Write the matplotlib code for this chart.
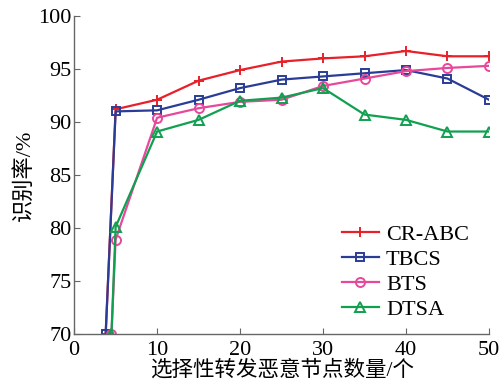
import matplotlib
matplotlib.use('Agg')
import matplotlib.pyplot as plt

# Данные
x_start_a = 3.8
x_start_b = 4.5
x_main = [5, 10, 15, 20, 25, 30, 35, 40, 45, 50]

cr_abc = [70, 91.2, 92.1, 93.9, 94.9, 95.7, 96.0, 96.2, 96.7, 96.2, 96.2]
tbcs = [70, 91.0, 91.1, 92.1, 93.2, 94.0, 94.3, 94.6, 94.9, 94.1, 92.1]
bts = [70, 78.9, 90.4, 91.3, 91.9, 92.1, 93.4, 94.1, 94.8, 95.1, 95.3]
dtsa = [70, 80.1, 89.1, 90.2, 92.0, 92.3, 93.2, 90.7, 90.2, 89.1, 89.1]

x_a = [x_start_a] + x_main
x_b = [x_start_b] + x_main

x_ticks = [0, 10, 20, 30, 40, 50]
y_ticks = [70, 75, 80, 85, 90, 95, 100]

plt.rcParams['font.family'] = ['Liberation Serif', 'Noto Sans CJK SC']

fig = plt.figure(figsize=(5.01, 3.91), dpi=100)
ax = fig.add_axes([0.148, 0.146, 0.828, 0.813])

ax.plot(x_a, cr_abc, color='#e8202a', marker='+', markersize=7.5,
        markeredgewidth=1.4, linewidth=1.6, label='CR-ABC')
ax.plot(x_a, tbcs, color='#2a3d96', marker='s', markersize=5.5,
        markerfacecolor='none', markeredgewidth=1.4, linewidth=1.6, label='TBCS')
ax.plot(x_b, bts, color='#e8489a', marker='o', markersize=6.5,
        markerfacecolor='none', markeredgewidth=1.4, linewidth=1.6, label='BTS')
ax.plot(x_b, dtsa, color='#10a050', marker='^', markersize=7.5,
        markerfacecolor='none', markeredgewidth=1.4, linewidth=1.6, label='DTSA')

ax.set_xlim(0, 50)
ax.set_ylim(70, 100)
ax.set_xticks(x_ticks)
ax.set_yticks(y_ticks)

for side in ['top', 'right']:
    ax.spines[side].set_visible(False)
for side in ['left', 'bottom']:
    ax.spines[side].set_color('#666666')
    ax.spines[side].set_linewidth(1.0)
ax.tick_params(direction='in', length=4, color='#666666', labelsize=16)
ax.tick_params(axis='x', pad=5)
ax.tick_params(axis='y', pad=2)

ax.set_xlabel('选择性转发恶意节点数量/个', fontsize=15.5, labelpad=0)
ax.set_ylabel('识别率/%', fontsize=16, labelpad=2)

ax.legend(loc='lower right', frameon=False, fontsize=16, handlelength=1.7,
          handletextpad=0.3, labelspacing=0.2, bbox_to_anchor=(1.0, -0.02))

fig.savefig('out.png', dpi=100)
